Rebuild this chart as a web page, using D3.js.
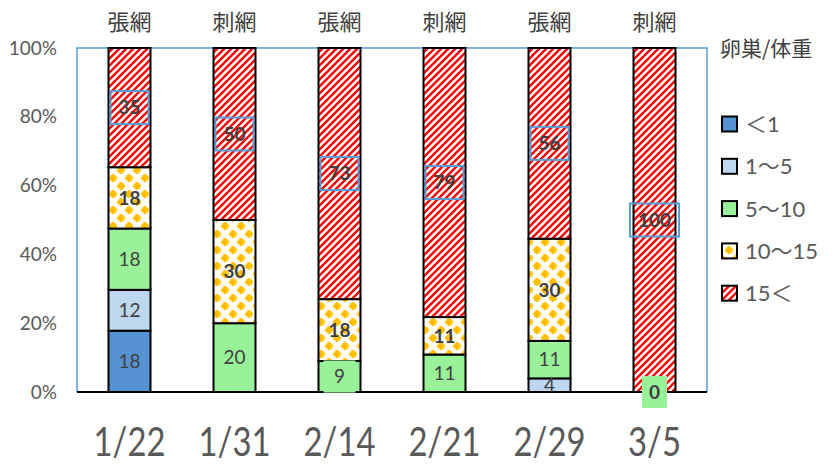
<!DOCTYPE html>
<html><head><meta charset="utf-8">
<script src="https://cdn.jsdelivr.net/npm/d3@7"></script>
<style>body{margin:0;background:#fff}svg{display:block}</style>
</head><body><svg id="c" width="834" height="465"></svg>
<script>
const dates = ["1/22","1/31","2/14","2/21","2/29","3/5"];
const gearTypes = ["張網","刺網","張網","刺網","張網","刺網"];
const classes = ["＜1","1～5","5～10","10～15","15＜"];
const lt1    = [18, null, null, null, null, null];
const r1to5  = [12, null, null, null, 4, null];
const r5to10 = [18, 20, 9, 11, 11, 0];
const r10to15= [18, 30, 18, 11, 30, null];
const gt15   = [35, 50, 73, 79, 56, 100];
const yTicks = [0, 0.2, 0.4, 0.6, 0.8, 1];
const legendTitle = "卵巣/体重";

(function(){
const seriesArrays = [lt1, r1to5, r5to10, r10to15, gt15];
const keys = ["k0","k1","k2","k3","k4"];

const svg = d3.select("#c");
const defs = svg.append("defs");
const P = 7;
const ps = defs.append("pattern").attr("id","stripes").attr("patternUnits","userSpaceOnUse")
  .attr("width",P).attr("height",P);
ps.append("rect").attr("width",P).attr("height",P).attr("fill","#fff");
ps.append("path").attr("d",`M0,${P} L${P},0 M${-P/2},${P/2} L${P/2},${-P/2} M${P/2},${1.5*P} L${1.5*P},${P/2}`)
  .attr("stroke","#FF0000").attr("stroke-width",2.4);
const D = 16;
const pd = defs.append("pattern").attr("id","dots").attr("patternUnits","userSpaceOnUse")
  .attr("width",D).attr("height",D).attr("x",1).attr("y",2);
pd.append("rect").attr("width",D).attr("height",D).attr("fill","#fff");
[[0,0],[D,0],[0,D],[D,D],[D/2,D/2]].forEach(([cx,cy])=>{
  pd.append("path").attr("transform",`translate(${cx},${cy})`)
    .attr("d","M0,-4.8 Q1.2,-1.2 4.8,0 Q1.2,1.2 0,4.8 Q-1.2,1.2 -4.8,0 Q-1.2,-1.2 0,-4.8Z")
    .attr("fill","#FFC000");
  pd.append("circle").attr("cx",cx).attr("cy",cy).attr("r",3.5).attr("fill","#FFC000");
});

const fills = ["#5592D2","#BDD7EE","#99F299","url(#dots)","url(#stripes)"];

const pL=77, pR=707, pT=48, pB=392;
const x = d3.scaleBand().domain(dates).range([pL,pR]).paddingInner(0.6).paddingOuter(0.3);
const y = d3.scaleLinear().domain([0,1]).range([pB,pT]);

const rows = dates.map((d,i)=>{
  const r={date:d}; keys.forEach((k,j)=>r[k]=seriesArrays[j][i]||0); return r;
});
const stacked = d3.stack().keys(keys).offset(d3.stackOffsetExpand)(rows);

svg.append("path").attr("d",`M${pL},${pB} V${pT} H${pR} V${pB}`)
  .attr("fill","none").attr("stroke","#5B9BD5").attr("stroke-width",1.5);

stacked.forEach((s,j)=>{
  svg.append("g").selectAll("rect").data(s).join("rect")
    .attr("x",d=>x(d.data.date)).attr("width",x.bandwidth())
    .attr("y",d=>y(d[1])).attr("height",d=>y(d[0])-y(d[1]))
    .attr("fill",fills[j]).attr("stroke","#000").attr("stroke-width",2)
    .attr("display",d=>(d[1]-d[0])>0?null:"none");
});

svg.append("line").attr("x1",pL).attr("x2",pR).attr("y1",pB).attr("y2",pB)
  .attr("stroke","#000").attr("stroke-width",2);

const yAxis = d3.axisLeft(y).tickValues(yTicks).tickFormat(d3.format(".0%")).tickSize(0).tickPadding(20);
const ga = svg.append("g").attr("transform",`translate(${pL},0)`).call(yAxis);
ga.select(".domain").remove();
ga.selectAll("text").attr("font-family","Lato, 'Noto Sans'").attr("font-size",19).attr("fill","#595959");

const lg = svg.append("g").attr("font-family","Lato, 'Noto Sans'").attr("font-size",19);
stacked.forEach((s,j)=>{
  s.forEach((d,i)=>{
    const v = seriesArrays[j][i];
    if (v===null) return;
    const cx = x(d.data.date)+x.bandwidth()/2;
    const cy = y((d[0]+d[1])/2);
    const bold = j>=3 || v===0;
    const g = lg.append("g");
    const t = g.append("text").attr("x",cx).attr("y",cy).attr("dy","0.36em")
      .attr("text-anchor","middle").attr("fill","#404040")
      .attr("font-weight",bold?"bold":"normal").text(v);
    const w = t.node().getComputedTextLength();
    if (j===4) {
      g.insert("rect","text").attr("x",cx-w/2-8).attr("y",cy-16.5).attr("width",w+16).attr("height",33)
        .attr("fill","none").attr("stroke","#5B9BD5").attr("stroke-width",2);
    } else if (j===2 && v<10) {
      const bw = v===0 ? 25 : 32;
      g.insert("rect","text").attr("x",cx-bw/2).attr("y",cy-16).attr("width",bw).attr("height",32)
        .attr("fill","#99F299");
    }
  });
});

svg.append("g").selectAll("text").data(dates).join("text")
  .attr("transform",d=>`translate(${x(d)+x.bandwidth()/2},456) scale(0.8,1)`)
  .attr("text-anchor","middle").attr("font-family","Lato, 'Noto Sans'").attr("font-size",41)
  .attr("fill","#595959").text(d=>d);

svg.append("g").selectAll("text").data(dates).join("text")
  .attr("x",d=>x(d)+x.bandwidth()/2).attr("y",30)
  .attr("text-anchor","middle").attr("font-family","'Noto Sans CJK JP'").attr("font-size",22)
  .attr("fill","#404040").text((d,i)=>gearTypes[i]);

svg.append("text").attr("x",720).attr("y",56).attr("font-family","'Noto Sans CJK JP'")
  .attr("font-size",21).attr("fill","#404040").text(legendTitle);
const leg = svg.append("g");
classes.forEach((c,j)=>{
  const cy = 124 + j*42.3;
  leg.append("rect").attr("x",722).attr("y",cy-7.5).attr("width",15).attr("height",15)
    .attr("fill",fills[j]).attr("stroke","#000").attr("stroke-width",2);
  leg.append("text").attr("x",745).attr("y",cy).attr("dy","0.36em")
    .attr("font-family","Lato, 'Noto Sans CJK JP'").attr("font-size",22).attr("fill","#595959").text(c);
});
})();
</script></body></html>
